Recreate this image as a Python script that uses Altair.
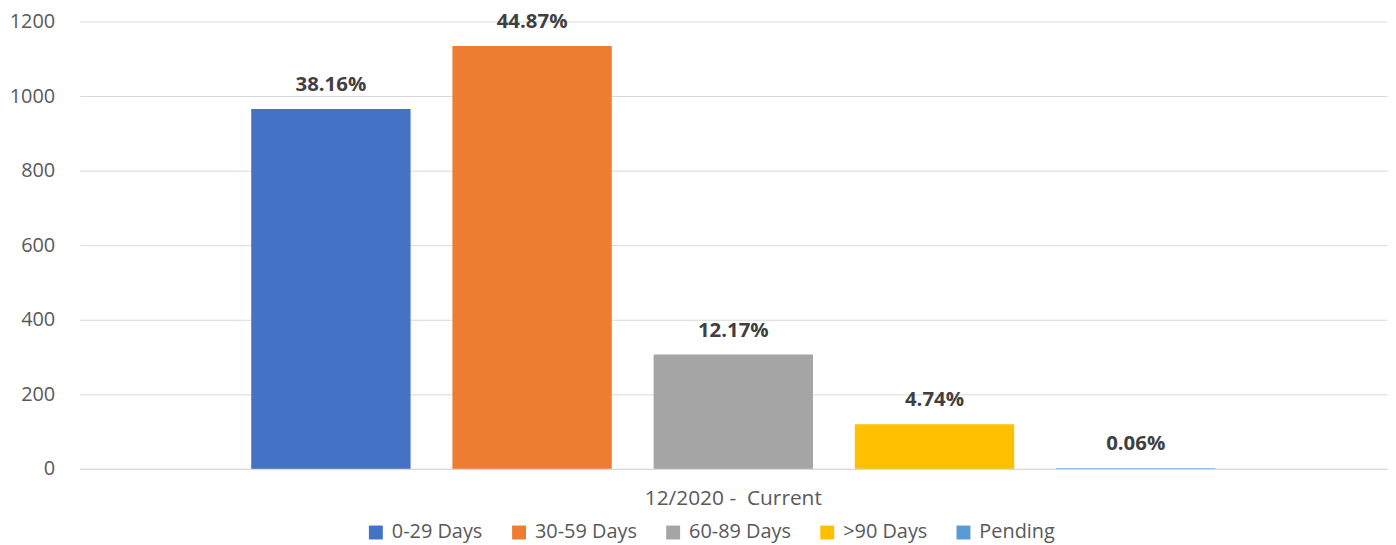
import altair as alt
import pandas as pd

series = ["0-29 Days", "30-59 Days", "60-89 Days", ">90 Days", "Pending"]
counts = [965, 1134, 307, 120, 1.5]
labels = ["38.16%", "44.87%", "12.17%", "4.74%", "0.06%"]
colors = ["#4472C4", "#ED7D31", "#A5A5A5", "#FFC000", "#5B9BD5"]
period = "12/2020 -\u00a0 Current"
y_ticks = [0, 200, 400, 600, 800, 1000, 1200]

df = pd.DataFrame({
    "period": [period] * len(series),
    "series": series,
    "count": counts,
    "label": labels,
})

FONT = "Open Sans"

x = alt.X(
    "period:N", title=None,
    scale=alt.Scale(paddingInner=0, paddingOuter=0.178),
    axis=alt.Axis(labelAngle=0, ticks=False, domainColor="#d9d9d9", domainWidth=1.2, zindex=1,
                  labelPadding=19, labelFontSize=21, labelColor="#595959", labelFont=FONT),
)
xo = alt.XOffset("series:N", sort=series, scale=alt.Scale(paddingInner=0.208, paddingOuter=0))
y = alt.Y(
    "count:Q", title=None,
    scale=alt.Scale(domain=[0, 1200], nice=False),
    axis=alt.Axis(values=y_ticks, format="d", ticks=False, domain=False, gridColor="#d9d9d9", gridWidth=1,
                  labelPadding=25, labelFontSize=20, labelColor="#595959", labelFont=FONT),
)
color = alt.Color(
    "series:N", sort=series,
    scale=alt.Scale(domain=series, range=colors),
    legend=alt.Legend(orient="none", legendX=288, legendY=504, direction="horizontal", title=None,
                      symbolType="square", symbolSize=196, symbolStrokeWidth=0,
                      labelFontSize=20, labelColor="#595959", labelFont=FONT,
                      labelOffset=6, columnPadding=26),
)

bars = alt.Chart(df).mark_bar().encode(x=x, xOffset=xo, y=y, color=color)
text = alt.Chart(df).mark_text(
    dy=-24, fontWeight="bold", fontSize=20.5, font=FONT, color="#404040", baseline="middle"
).encode(x=x, xOffset=xo, y=y, text="label:N")

chart = alt.layer(bars, text).properties(
    width=1315, height=450,
    padding={"left": 72, "top": 12, "right": 1, "bottom": 75},
    autosize=alt.AutoSizeParams(type="none"),
).configure_view(stroke=None)

chart.save("out.html", embed_options={"renderer": "svg", "actions": False})
